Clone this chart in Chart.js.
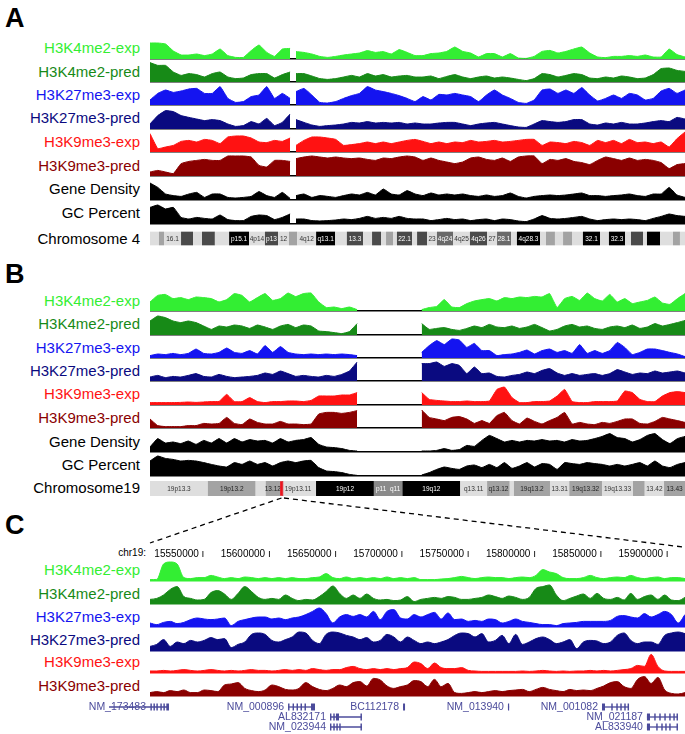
<!DOCTYPE html>
<html>
<head>
<meta charset="utf-8">
<script src="https://cdn.jsdelivr.net/npm/chart.js@4.4.1/dist/chart.umd.min.js"></script>
<style>
  body { margin: 0; background: #fff; }
  #fig { position: relative; width: 685px; height: 734px; overflow: hidden;
         font-family: "Liberation Sans", Arial, Helvetica, sans-serif; }
  #fig canvas { position: absolute; }
  .lbl { position: absolute; right: 545px; font-size: 15px; line-height: 18px; white-space: nowrap; }
  .panel { position: absolute; left: 5px; font-size: 27px; font-weight: bold; line-height: 30px; }
  #fig svg { position: absolute; left: 0; top: 0; }
</style>
</head>
<body>
<div id="fig"></div>
<script>
// ---- data ----
const TRACK_NAMES = ['H3K4me2-exp', 'H3K4me2-pred', 'H3K27me3-exp', 'H3K27me3-pred',
                     'H3K9me3-exp', 'H3K9me3-pred', 'Gene Density', 'GC Percent'];

// chromosome 4 (Mb): p arm values, q arm values
const CHR4_LEN = 191.3, CHR4_P_END = 50.1, CHR4_Q_START = 52.2;
const A_K4_EXP_P = [8, 8, 7.5, 4, 2, 2, 2.5, 1.7, 2.5, 5, 1.7, 0.8, 0.8, 4.2, 7, 3.3, 1.3, 5, 5.3];
const A_K4_EXP_Q = [3.7, 3.3, 2.5, 1.3, 0.8, 1.3, 2, 2.5, 3, 4.2, 3.3, 3.7, 2.5, 4.7, 3.3, 1.7,
  1.7, 2.7, 3, 3.8, 6, 3.8, 3, 1, 2.7, 2.7, 1, 2.7, 0.5, 0.3, 1.3, 3.8, 4.3, 3, 3.8, 5, 6, 3, 1, 0.7,
  1.3, 1.3, 1.7, 1.3, 2, 1, 1, 5, 2.2, 1];
const A_K4_PRED_P = [9.7, 8.3, 8.3, 5, 3.3, 4.2, 3.7, 2.5, 4.2, 5, 2.5, 1.7, 2, 3.7, 4.2, 4.2, 2, 3.7, 5];
const A_K4_PRED_Q = [4.2, 4.2, 3, 1.7, 1.3, 1.7, 2.5, 3.3, 2.5, 4.2, 3, 3.7, 2.5, 3, 3.3, 2.5,
  2.5, 3, 1.7, 2.8, 3.7, 2.5, 1.7, 2.5, 3, 2, 2.5, 2, 1.3, 0.7, 1.7, 4.2, 3.7, 2.5, 3.3, 4.2, 3.7, 2, 1.7, 2.5,
  2, 3, 2.5, 1.7, 2, 3.7, 6.7, 7, 5.8, 5.3];
const A_K27_EXP_P = [2.5, 5.8, 7.5, 6.3, 7, 8, 8.3, 5.8, 5.8, 9.2, 3.3, 1.3, 1.7, 4.2, 5, 9.2, 3.3, 5.8, 3.3];
const A_K27_EXP_Q = [6.7, 8.3, 5, 1.3, 1, 1.7, 3.3, 4.7, 5.8, 9.2, 7.5, 6.7, 5.8, 4.7, 3.3, 1.7,
  4.2, 2.5, 5.3, 5, 5.8, 5, 4.2, 1.7, 5, 7.5, 5, 3.3, 1.3, 0.8, 2.5, 7.5, 8, 5.8, 7.5, 5.8, 8.7, 5, 2, 3.3,
  5, 3.3, 5.8, 5, 2.5, 3.3, 7, 8.3, 5.8, 7.5];
const A_K27_PRED_P = [2.5, 6.7, 9.2, 8.7, 6.7, 5.8, 5, 4.2, 4.7, 4.2, 2.5, 1.3, 1.7, 3.7, 2.5, 5.3, 1.7, 3.3, 7.5];
const A_K27_PRED_Q = [4.7, 3.3, 2, 1.3, 1.7, 2, 2.5, 3.3, 3, 3.7, 3, 3.3, 3, 3.3, 2.5, 3,
  2.5, 2.5, 3, 3.3, 3.3, 2.5, 1.7, 2.5, 3, 3.3, 2.5, 1.7, 1, 0.8, 2.5, 4.2, 3.7, 3.3, 3.7, 4.7, 4.7, 2.5, 2, 3,
  2.5, 3.3, 2.5, 2.5, 3, 3.7, 4.2, 3.7, 5.8, 5];
const A_K9_EXP_P = [9.2, 1.7, 2.5, 3.3, 5.3, 5.8, 5, 6.3, 5.8, 4.2, 7.5, 8, 8, 7, 5, 4.7, 5.8, 5.3, 7];
const A_K9_EXP_Q = [3.3, 5.8, 7.5, 7.5, 7, 6.3, 3.3, 3.7, 4.2, 5, 4.2, 5, 4.2, 5, 5.8, 6.3,
  5.3, 4.2, 5, 4.2, 5, 4.7, 5.8, 5, 5.3, 5.8, 5, 5.3, 5.8, 6.3, 6.3, 3.3, 5, 4.7, 4.2, 5.3, 4.7, 3.3, 5.8, 4.7,
  5.8, 4.2, 6.3, 4.7, 5, 4.2, 5, 2.5, 6.7, 10];
const A_K9_PRED_P = [2, 2.8, 2, 1.2, 6.2, 7.3, 7.8, 8.3, 7.8, 7.8, 10, 10, 10, 9.5, 5.3, 4.5, 7.8, 7.8, 7.3];
const A_K9_PRED_Q = [8.7, 9.5, 10, 9.5, 9, 9.5, 9, 8.7, 9, 8.3, 7.8, 9, 8.7, 9.5, 10, 9.5,
  7.8, 9, 7.8, 7, 6.2, 7, 9, 9.5, 8.3, 7.8, 9, 7.3, 9.5, 10, 10, 6.2, 8.3, 7.8, 8.7, 7.3, 6.7, 5.7, 7.8, 9.5,
  8.7, 7.8, 9, 7.8, 8.3, 7.8, 6.7, 3.7, 5.7, 6.2];
const A_GENE_P = [8.5, 6.3, 3, 2.2, 1.8, 3, 3.8, 1.3, 3, 3, 1.3, 1, 1.3, 1.8, 4.2, 2.2, 1.3, 3.8, 0.8];
const A_GENE_Q = [2.2, 3, 1.3, 2.2, 1.8, 1.3, 2.2, 3, 2.5, 3.8, 2.5, 5.5, 3, 2.5, 4.7, 3,
  2.2, 3.5, 2.5, 3, 2.5, 3, 2.2, 1.8, 2.5, 1.8, 2.2, 3.5, 1.8, 1, 1.8, 2.2, 2.5, 2.2, 2.5, 3, 3.5, 2.2, 2.2, 1.8,
  2.2, 2.5, 3, 2.2, 1.8, 3, 3, 6.3, 2.5, 1.3];
const A_GC_P = [8.3, 9.5, 7.5, 8.3, 3.3, 2.5, 3.3, 2.8, 2.5, 4.5, 2.2, 1.7, 1.7, 3.8, 4.5, 4.2, 2.2, 3.3, 5];
const A_GC_Q = [2.5, 2.5, 1.7, 1.5, 1.7, 2, 2.5, 2.2, 2.8, 3.8, 2.8, 3.3, 2.8, 3.8, 2.8, 2.5,
  2.5, 1.7, 2.2, 2.8, 2.2, 2.5, 1.7, 2.2, 2.5, 1.7, 2.5, 2.2, 1.5, 1.2, 2.5, 4.2, 2.8, 2.5, 2.8, 3.3, 3.8, 2.5, 1.7, 2.2,
  2.5, 2.2, 2.5, 2.2, 1.7, 2.8, 3.8, 5, 4.2, 3.8];

// chromosome 19 (Mb)
const CHR19_LEN = 63.8, CHR19_P_END = 24.7, CHR19_Q_START = 32.4;
const B_K4_EXP_P = [4.5, 7.8, 8.3, 6.2, 6.7, 5.7, 7, 6.7, 6.2, 4.5, 5.7, 8.7, 7.8, 4.5, 6.7, 8.7, 5.3, 6.2, 9, 7.2,
  8.7, 9, 4.5, 1.7, 2, 1.2, 2, 0.7];
const B_K4_EXP_Q = [0.7, 1.7, 2.3, 5.7, 2, 1.7, 3.7, 5, 5.7, 6.2, 5, 6.7, 6.2, 7, 6.7, 7.3, 7, 8.7, 1.7, 6.2,
  7.3, 5.3, 9, 6.2, 5, 8.3, 4.5, 6.2, 3.7, 4.5, 5.3, 7, 4, 3.3, 6.2, 8.7];
const B_K4_PRED_P = [7, 9.5, 8.7, 7, 6.2, 7, 6.2, 4.5, 2.8, 4.5, 4, 5, 4.5, 3.3, 5, 4, 2.8, 4.5, 5.3, 3.7,
  5, 4.5, 2, 1.7, 1.2, 0.7, 1.7, 5.7];
const B_K4_PRED_Q = [5.7, 2.8, 3.3, 3.7, 2.8, 2.3, 3.3, 4.5, 3.7, 5.3, 4, 3.7, 4.5, 3.3, 4, 5.3, 3.7, 2, 2.8, 4.5,
  5.3, 4, 4.5, 3.3, 2.8, 4, 4.5, 3.7, 5, 3.3, 4, 5.7, 4.5, 5.3, 6.2, 7.3];
const B_K27_EXP_P = [1.2, 2, 1.7, 2.3, 1.7, 2.3, 4.5, 2.3, 2, 2.8, 5, 2.8, 2.3, 3.7, 2, 6.2, 2.8, 5.7, 2.8, 2,
  1.7, 2, 1.7, 2, 1.7, 2, 1.7, 1.2];
const B_K27_EXP_Q = [2.8, 6.2, 8.7, 6.7, 9.5, 9, 5.3, 7.3, 3.7, 3.7, 1.2, 1.7, 2, 2.8, 4, 2, 3.7, 4.5, 2.8, 3.7,
  2.3, 6.7, 2.3, 3.7, 2.3, 3.7, 7.8, 5.3, 1.7, 2.8, 4.5, 4.5, 3.7, 2.8, 2, 0.7];
const B_K27_PRED_P = [2, 2.8, 1.7, 2.3, 2, 2.8, 3.7, 2.3, 2, 3.3, 2.3, 1.7, 2, 2.3, 2.8, 4, 3.3, 5, 3.7, 2.3,
  2.8, 2.3, 2, 2.8, 2.3, 3.3, 5, 9.5];
const B_K27_PRED_Q = [8.7, 8.7, 9.5, 7.3, 8.7, 7.8, 3.7, 7, 3.7, 4, 2.3, 2, 2.8, 3.3, 4.5, 3.7, 5.3, 6.2, 4, 2.8,
  3.7, 2.8, 3.3, 3.7, 2.8, 3.7, 5.7, 4.5, 3.3, 4, 3.7, 5, 4, 4.5, 5, 4];
const B_K9_EXP_P = [1.2, 1.2, 1.2, 1.2, 1.3, 1.5, 1.3, 1.5, 1.7, 1.8, 5.3, 1.7, 1.7, 3.7, 1.7, 1.2, 1.7, 1.7, 2, 2,
  1.7, 2.3, 4.5, 4.5, 4.5, 5, 5, 6.2];
const B_K9_EXP_Q = [6.2, 2.8, 2.3, 2, 1.7, 1.7, 2, 1.7, 1.7, 2, 7.8, 9, 3.7, 1.2, 1.2, 1.7, 1.7, 2, 4.5, 7.8,
  1.7, 1.2, 1.2, 1.7, 1.7, 1.7, 2, 7, 6.2, 2.8, 1.7, 1.7, 4.5, 6.2, 6.7, 6.2];
const B_K9_PRED_P = [4.5, 1.2, 0.7, 0.7, 0.7, 1.2, 1.2, 2.3, 2, 2.3, 5.3, 2.3, 1.7, 4.5, 2.8, 2, 2, 3.3, 2, 2,
  1.7, 2, 7, 7.8, 7.8, 7.3, 7.8, 8.7];
const B_K9_PRED_Q = [9, 5.3, 4.5, 3.7, 5.3, 5.7, 4.5, 2.3, 3.7, 2.3, 6.2, 7.8, 3.7, 2, 5, 3.3, 2, 3.7, 5.3, 7.8,
  2, 2.8, 2, 1.7, 2.8, 2.3, 3.3, 4.5, 4.5, 2.3, 2, 3.3, 5.3, 4.5, 3.7, 2.8];
const B_GENE_P = [2.5, 6.7, 4.5, 5, 4.2, 5.5, 3.8, 5.8, 4.5, 6.7, 4.5, 6.7, 5, 6.2, 5.5, 5.8, 4.5, 6.7, 5, 5.8,
  6.2, 7.2, 3.8, 2.5, 2.2, 1.7, 0.8, 0.5];
const B_GENE_Q = [0.5, 0.5, 0.8, 1.7, 0.8, 1.2, 3.3, 2.8, 5.8, 8.3, 6.7, 5, 5.8, 5, 5.8, 5.5, 6.2, 5.5, 5.8, 5,
  6.2, 5.5, 5.8, 6.7, 7.8, 9.2, 7.2, 6.7, 5, 6.2, 8.3, 9.2, 6.2, 4.2, 6.7, 7.8];
const B_GC_P = [7.5, 10, 8.8, 8.3, 7.5, 7.8, 7.5, 6.7, 5.8, 5, 4.5, 6.7, 5.8, 7.5, 5.8, 6.7, 5, 6.7, 7.5, 6.7,
  7.5, 7.8, 4.2, 2.5, 2.2, 1.7, 0.8, 0.3];
const B_GC_Q = [0.5, 1.7, 3.3, 4.5, 3.8, 3.3, 5, 5.5, 4.2, 5.8, 4.2, 6.7, 3.8, 5, 6.7, 4.5, 6.2, 5.8, 3.3, 6.7,
  6.2, 5.8, 6.7, 6.2, 5.8, 5, 5.8, 5, 5.8, 6.7, 5, 7.5, 5, 4.2, 5.8, 6.7];

// chr19 zoom window (bp)
const C_START = 15509000, C_END = 15912400;
const C_TICKS = [15550000, 15600000, 15650000, 15700000, 15750000, 15800000, 15850000, 15900000];
const C_K4_EXP = [0.7, 0.8, 8.5, 9.5, 8.5, 1.7, 1.2, 1.7, 1.7, 2.8, 2, 1.2, 1.7, 1.2, 2, 1.7, 1.2, 1.7, 1.2, 1.7,
  1.2, 1.7, 1.2, 1.2, 1.7, 2, 3.7, 1.7, 1.2, 2, 1.2, 1.7, 1.2, 1.7, 1.2, 2, 1.2, 1.7, 1.2, 1.7,
  0.7, 0.7, 0.7, 1, 1.2, 1.7, 2.3, 1.7, 1.2, 1.7, 2, 1.7, 1.7, 1.2, 1.7, 2, 1.7, 2.8, 5.7, 4.5,
  3.7, 1.7, 1.2, 1.2, 1.7, 2.8, 1.7, 1.2, 1.7, 2, 1.7, 2.8, 1.7, 1.2, 1.7, 2, 1.2, 1.7, 1.7, 1.2];
const C_K4_PRED = [2.3, 2.8, 4.5, 7.3, 8.7, 3.7, 2.8, 2, 2.3, 5.7, 6.7, 5, 2.3, 5.3, 8.7, 6.2, 3.3, 2.3, 2.8, 2.3,
  4.5, 2.8, 1.7, 2.3, 2, 3.7, 6.2, 9, 5.3, 2.8, 4.5, 2.8, 5, 2.8, 2, 2.3, 1.7, 2, 3.7, 1.2,
  2.3, 2.8, 3.3, 2.8, 3.7, 3.3, 2.3, 2.3, 2.8, 3.3, 4.5, 3.7, 2.8, 4, 3.3, 2.3, 3.3, 7.8, 8.7, 9.5,
  4.5, 1.7, 2.8, 4, 5, 2.8, 5.3, 2.8, 2.3, 3.3, 2, 5.3, 2.3, 3.7, 4.5, 2.3, 4.5, 2, 1.7, 3.3];
const C_K27_EXP = [2, 1.2, 2.3, 2.8, 1.7, 2.3, 3.7, 4.5, 4, 3.7, 4, 4.5, 0.7, 2.8, 3.7, 4.5, 5, 5, 4, 4.5,
  3.7, 4.5, 5, 6.2, 7.8, 9.5, 6.7, 2, 5, 6.2, 5.3, 6.2, 5, 7.8, 3.7, 7.8, 8.7, 4.5, 4, 6.2,
  5, 6.2, 7.3, 4, 7, 3.7, 4, 2.8, 3.3, 2.8, 4, 3.7, 2, 2.8, 4, 2.8, 2.3, 1.7, 1.2, 1.2,
  0.7, 1.7, 2, 2.3, 2.8, 2.8, 2.8, 2.8, 3.3, 5.3, 5.7, 5, 4.5, 6.7, 5, 6.2, 7.8, 6.2, 2, 6.2];
const C_K27_PRED = [2.3, 3.3, 5.7, 2.3, 4.5, 3.7, 5.3, 4.5, 5.3, 6.7, 5.7, 6.2, 1.7, 3.3, 4.5, 8.3, 9, 8.3, 5.3, 4.5,
  5.7, 7, 9.5, 9, 5.3, 3.7, 8.3, 9.5, 9, 7.8, 7, 5.7, 6.7, 4.5, 5.3, 8.3, 7, 4.5, 7, 5.3,
  3.7, 4.5, 3.7, 4.5, 5.7, 7.8, 9, 8.7, 7, 8.7, 4.5, 5.3, 7.8, 3.7, 8.3, 3.3, 4.5, 6.2, 7, 5.7,
  3.7, 4.5, 5.7, 1.2, 4.5, 5.3, 5, 3.7, 4.5, 7.8, 9, 5.3, 3.7, 4.5, 4.5, 3.3, 7.8, 9, 9.5, 8.7];
const C_K9_EXP = [1, 1, 1.3, 1, 1.3, 1.7, 1.3, 1, 1.3, 1.7, 1.3, 1, 1.3, 1, 1.3, 1.7, 1.3, 1.3, 1, 1.3,
  1.7, 1.3, 1.7, 1.3, 2.2, 1.7, 1.3, 1.7, 1.7, 2.7, 3.3, 2.2, 1.7, 2.2, 1.7, 2.2, 1.7, 2.2, 2.7, 5.5,
  4.7, 2.2, 5, 2.7, 2.2, 2.2, 2.7, 1.3, 1, 0.8, 0.8, 0.8, 0.8, 0.8, 0.8, 1, 0.8, 1, 1.3, 1,
  0.8, 1, 0.8, 1, 1, 1.3, 1, 1.3, 1, 1.3, 1.7, 2.2, 3.8, 3.3, 9.3, 3.3, 1, 0.8, 0.8, 0.8];
const C_K9_PRED = [1.7, 2.2, 1.7, 2.7, 2.2, 3, 1.7, 1.7, 3, 2.7, 2.2, 5.5, 6, 6.7, 3.8, 2.7, 2.2, 3, 5.5, 4.7,
  3.3, 3, 3.8, 6.7, 4.7, 3.3, 2.7, 3.8, 5.5, 4.7, 6.7, 7.2, 5, 8.8, 8, 5, 3.8, 4.7, 5.5, 7.7,
  7.2, 4.7, 8.3, 4.7, 6.3, 1.7, 1.3, 1.7, 2.2, 1.7, 2.2, 2.7, 2.2, 2.7, 3, 3.3, 2.2, 3.3, 4.3, 3.3,
  2.7, 2.2, 3.3, 2.7, 3, 2.7, 3.8, 5, 6.7, 7.2, 4.7, 3.8, 8.3, 9.7, 6.3, 9.3, 3, 1.3, 1, 1.7];

// ideogram bands: [start Mb, end Mb, stain, name]
const CHR4_BANDS = [
  [0, 3.2, 'l', ''], [3.2, 5.0, 'm', ''], [5.0, 11.1, 'l', '16.1'], [11.1, 15.4, 'd', ''],
  [15.4, 18.6, 'l', ''], [18.6, 23.2, 'd', ''], [23.2, 28.3, 'l', ''], [28.3, 35.4, 'k', 'p15.1'],
  [35.4, 41.1, 'l', '4p14'], [41.1, 45.8, 'd', 'p13'], [45.8, 49.7, 'l', '12'], [49.7, 52.6, 'm', ''],
  [52.6, 59.4, 'l', '4q12'], [59.4, 66.2, 'k', 'q13.1'], [66.2, 70.4, 'l', ''], [70.4, 76.2, 'd', '13.3'],
  [76.2, 79.4, 'l', ''], [79.4, 82.6, 'd', ''], [82.6, 84.4, 'l', ''], [84.4, 86.9, 'm', ''],
  [86.9, 88.3, 'l', ''], [88.3, 93.7, 'd', '22.1'], [93.7, 95.5, 'l', ''], [95.5, 99.1, 'd', ''],
  [99.1, 102.6, 'l', '23'], [102.6, 108.4, 'g', '4q24'], [108.4, 114.4, 'l', '4q25'], [114.4, 120.5, 'd', '4q26'],
  [120.5, 124.1, 'l', '27'], [124.1, 129.1, 'g', '28.1'], [129.1, 131.2, 'l', ''], [131.2, 139.5, 'k', '4q28.3'],
  [139.5, 141.6, 'l', ''], [141.6, 144.8, 'm', ''], [144.8, 147.7, 'l', ''], [147.7, 150.9, 'm', ''],
  [150.9, 154.8, 'l', ''], [154.8, 160.9, 'k', '32.1'], [160.9, 164.1, 'l', ''], [164.1, 169.9, 'k', '32.3'],
  [169.9, 172.0, 'l', ''], [172.0, 176.3, 'd', ''], [176.3, 177.7, 'l', ''], [177.7, 182.4, 'k', ''],
  [182.4, 187.0, 'l', ''], [187.0, 189.5, 'm', ''], [189.5, 191.3, 'l', '']
];
const CHR19_BANDS = [
  [0, 6.9, 'l', '19p13.3'], [6.9, 12.6, 'm', '19p13.2'], [12.6, 13.8, 'l', ''], [13.8, 15.5, 'm', '13.12'],
  [15.5, 19.8, 'l', '19p13.11'], [19.8, 26.7, 'k', '19p12'], [26.7, 30.1, 'c', 'p11  q11'], [30.1, 37.0, 'k', '19q12'],
  [37.0, 40.2, 'l', 'q13.11'], [40.2, 42.9, 'm', 'q13.12'], [42.9, 43.4, 'l', ''], [43.4, 47.7, 'm', '19q13.2'],
  [47.7, 50.0, 'l', '13.31'], [50.0, 53.9, 'm', '19q13.32'], [53.9, 57.6, 'l', '19q13.33'], [57.6, 59.0, 'm', ''],
  [59.0, 61.3, 'l', '13.42'], [61.3, 63.8, 'm', '13.43']
];

// RefSeq genes in the zoom window
const GENE_NAMES = ['NM_173483', 'NM_000896', 'BC112178', 'NM_013940', 'NM_001082',
                    'AL832171', 'NM_021187', 'NM_023944', 'AL833940'];
const GENE_ROWS = [0, 0, 0, 0, 0, 1, 1, 2, 2];
const GENE_STARTS = [15478100, 15613100, 15699800, 15778900, 15849800, 15644700, 15883700, 15644700, 15883700];
const GENE_ENDS = [15523300, 15633400, 15701300, 15779800, 15870200, 15668800, 15907100, 15668800, 15907100];
const GENE_EXONS = [
  [[15509300, 15510400], [15511600, 15512700], [15513800, 15514900], [15516800, 15517900], [15519100, 15520200], [15521300, 15523300]],
  [[15613100, 15614200], [15616500, 15617600], [15619500, 15620600], [15622500, 15623600], [15625500, 15626600], [15630400, 15633400]],
  [[15699800, 15701300]],
  [[15778900, 15779800]],
  [[15849800, 15852100], [15856800, 15857900], [15860600, 15861700], [15863600, 15864700], [15866600, 15867700], [15869100, 15870200]],
  [[15644700, 15645800], [15647200, 15648300], [15649200, 15651500], [15667700, 15668800]],
  [[15883700, 15886000], [15889200, 15890300], [15893000, 15894100], [15896800, 15897900], [15900500, 15901600], [15903600, 15904700], [15906000, 15907100]],
  [[15644700, 15645800], [15647200, 15648300], [15649500, 15650600], [15651700, 15652800], [15667700, 15668800]],
  [[15883700, 15886000], [15890700, 15891800], [15894500, 15895600], [15897500, 15898600], [15900500, 15901600], [15906000, 15907100]]
];

// ---- styles / layout ----
const TRACK_COLORS = ['#33ee33', '#178a17', '#1414f0', '#0a0a80', '#ff1212', '#8a0000', '#000000', '#000000'];
const STAIN = {
  l: { fill: '#dedede', text: '#333' }, m: { fill: '#a3a3a3', text: '#222' },
  g: { fill: '#6a6a6a', text: '#fff' }, d: { fill: '#4a4a4a', text: '#fff' },
  k: { fill: '#000000', text: '#fff' }, c: { fill: '#8a8a8a', text: '#fff' }
};
const GENE_COLOR = '#4b4b9b';
const PLOT_LEFT = 150, PLOT_W = 535, TRACK_H = 22;
const A_BASE = [58.7, 82, 105.3, 128.7, 152, 176, 199.7, 223.7];
const B_BASE = [311.3, 334.7, 358, 381.3, 404.7, 428, 452.3, 475.7];
const C_BASE = [580.7, 604, 627.3, 650.7, 672.7, 696];

Chart.defaults.font.family = '"Liberation Sans", Arial, Helvetica, sans-serif';
const fig = document.getElementById('fig');

function addCanvas(left, top, w, h) {
  const c = document.createElement('canvas');
  c.width = w; c.height = h;
  c.style.left = left + 'px'; c.style.top = top + 'px';
  c.style.width = w + 'px'; c.style.height = h + 'px';
  fig.appendChild(c);
  return c;
}

function addText(cls, text, top, color, extra) {
  const d = document.createElement('div');
  d.className = cls;
  d.textContent = text;
  d.style.top = top + 'px';
  d.style.color = color;
  if (extra) Object.assign(d.style, extra);
  fig.appendChild(d);
}

function spread(values, from, to) {
  const step = (to - from) / (values.length - 1);
  return values.map((v, i) => ({ x: from + i * step, y: v }));
}

const baseOpts = { responsive: false, animation: false, events: [], devicePixelRatio: 1 };

function track(baseline, arms, min, max, color, lineColor, smooth) {
  const canvas = addCanvas(PLOT_LEFT, Math.round(baseline) - (TRACK_H - 1), PLOT_W, TRACK_H);
  new Chart(canvas, {
    type: 'line',
    data: {
      datasets: arms.map(a => ({
        data: a, fill: 'origin', backgroundColor: color, borderColor: color,
        borderWidth: 1, pointRadius: 0,
        cubicInterpolationMode: smooth ? 'monotone' : 'default', tension: smooth ? 0.4 : 0.1
      }))
    },
    options: {
      ...baseOpts,
      layout: { padding: { top: 0, bottom: 1, left: 0, right: 0 } },
      plugins: { legend: { display: false }, tooltip: { enabled: false } },
      scales: {
        x: { type: 'linear', min, max, z: 1, ticks: { display: false },
             grid: { display: false, drawTicks: false },
             border: { display: true, color: lineColor, width: 1.5 } },
        y: { min: 0, max: 10.5, display: false }
      }
    }
  });
}

function ideogram(top, h, len, bands, thick, marker) {
  const canvas = addCanvas(PLOT_LEFT, top, PLOT_W, h);
  const datasets = [{
    data: bands.map(b => ({ x: [b[0], b[1]], y: 'chr' })),
    backgroundColor: bands.map(b => STAIN[b[2]].fill),
    borderWidth: 0, grouped: false, maxBarThickness: thick, order: 2
  }];
  if (marker) {
    datasets.push({ data: [{ x: marker, y: 'chr' }], backgroundColor: '#e8141e',
      borderColor: '#c80a10', borderWidth: 0.6, grouped: false, maxBarThickness: h, order: 1 });
  }
  const bandNames = {
    id: 'bandNames',
    afterDatasetDraw(chart, args) {
      if (args.index !== 0) return;
      const ctx = chart.ctx;
      ctx.save();
      ctx.font = '6.5px "Liberation Sans", Arial, sans-serif';
      ctx.textAlign = 'center';
      ctx.textBaseline = 'middle';
      args.meta.data.forEach((el, i) => {
        const b = bands[i];
        if (!b[3]) return;
        ctx.fillStyle = STAIN[b[2]].text;
        ctx.fillText(b[3], (el.x + el.base) / 2, el.y + 0.5);
      });
      ctx.restore();
    }
  };
  new Chart(canvas, {
    type: 'bar',
    data: { labels: ['chr'], datasets },
    options: {
      ...baseOpts, indexAxis: 'y',
      layout: { padding: 0 },
      plugins: { legend: { display: false }, tooltip: { enabled: false } },
      scales: {
        x: { type: 'linear', min: 0, max: len, display: false },
        y: { display: false }
      }
    },
    plugins: [bandNames]
  });
}

// ---- panel A ----
addText('panel', 'A', 3, '#000');
const A_ARMS = [[A_K4_EXP_P, A_K4_EXP_Q], [A_K4_PRED_P, A_K4_PRED_Q], [A_K27_EXP_P, A_K27_EXP_Q],
  [A_K27_PRED_P, A_K27_PRED_Q], [A_K9_EXP_P, A_K9_EXP_Q], [A_K9_PRED_P, A_K9_PRED_Q],
  [A_GENE_P, A_GENE_Q], [A_GC_P, A_GC_Q]];
A_ARMS.forEach((a, i) => {
  track(A_BASE[i], [spread(a[0], 0, CHR4_P_END), spread(a[1], CHR4_Q_START, CHR4_LEN)],
        0, CHR4_LEN, TRACK_COLORS[i], '#000', false);
  addText('lbl', TRACK_NAMES[i], A_BASE[i] - 19.5, TRACK_COLORS[i]);
});
ideogram(229, 19, CHR4_LEN, CHR4_BANDS, 14, null);
addText('lbl', 'Chromosome 4', 238.3 - 8.8, '#000');

// ---- panel B ----
addText('panel', 'B', 259, '#000');
const B_ARMS = [[B_K4_EXP_P, B_K4_EXP_Q], [B_K4_PRED_P, B_K4_PRED_Q], [B_K27_EXP_P, B_K27_EXP_Q],
  [B_K27_PRED_P, B_K27_PRED_Q], [B_K9_EXP_P, B_K9_EXP_Q], [B_K9_PRED_P, B_K9_PRED_Q],
  [B_GENE_P, B_GENE_Q], [B_GC_P, B_GC_Q]];
B_ARMS.forEach((a, i) => {
  track(B_BASE[i], [spread(a[0], 0, CHR19_P_END), spread(a[1], CHR19_Q_START, CHR19_LEN)],
        0, CHR19_LEN, TRACK_COLORS[i], '#000', false);
  addText('lbl', TRACK_NAMES[i], B_BASE[i] - 19.5, TRACK_COLORS[i]);
});
ideogram(478, 21, CHR19_LEN, CHR19_BANDS, 15, [C_START / 1e6, C_END / 1e6]);
addText('lbl', 'Chromosome19', 488.2 - 8.8, '#000');

// ---- panel C ----
addText('panel', 'C', 510, '#000');
const C_SERIES = [C_K4_EXP, C_K4_PRED, C_K27_EXP, C_K27_PRED, C_K9_EXP, C_K9_PRED];
C_SERIES.forEach((s, i) => {
  track(C_BASE[i], [spread(s, C_START, C_END)], C_START, C_END, TRACK_COLORS[i], TRACK_COLORS[i], true);
  addText('lbl', TRACK_NAMES[i], C_BASE[i] - 19.5, TRACK_COLORS[i]);
});

// coordinate ruler
const axisCanvas = addCanvas(PLOT_LEFT, 539, PLOT_W, 18);
new Chart(axisCanvas, {
  type: 'line',
  data: { datasets: [] },
  options: {
    ...baseOpts,
    layout: { padding: 0 },
    plugins: { legend: { display: false }, tooltip: { enabled: false } },
    scales: {
      x: { type: 'linear', min: C_START, max: C_END, bounds: 'data',
           afterBuildTicks: scale => { scale.ticks = C_TICKS.map(v => ({ value: v })); },
           grid: { display: false, drawTicks: false }, border: { display: false },
           ticks: { autoSkip: false, maxRotation: 0, align: 'end', padding: 0,
                    color: '#000', font: { size: 10 },
                    callback: v => v + ' \u0131' } },
      y: { display: false }
    }
  }
});
addText('lbl', 'chr19:', 552.7 - 6, '#000', { fontSize: '10px', lineHeight: '12px', right: '539px' });

// gene models
const bpPerPx = (C_END - C_START) / PLOT_W;
const geneCanvas = addCanvas(0, 702, 685, 30);
const ROW_KEYS = ['r0', 'r1', 'r2'];
const geneLabels = {
  id: 'geneLabels',
  beforeDatasetsDraw(chart) {
    const ctx = chart.ctx, xs = chart.scales.x, ys = chart.scales.y;
    ctx.save();
    ctx.font = '10.5px "Liberation Sans", Arial, sans-serif';
    ctx.fillStyle = GENE_COLOR;
    ctx.textAlign = 'right';
    ctx.textBaseline = 'middle';
    GENE_NAMES.forEach((n, i) => {
      const anchor = Math.max(GENE_STARTS[i], C_START);
      ctx.fillText(n, xs.getPixelForValue(anchor) - 4, ys.getPixelForValue(GENE_ROWS[i]) + 0.5);
    });
    ctx.restore();
  }
};
new Chart(geneCanvas, {
  type: 'bar',
  data: {
    labels: ROW_KEYS,
    datasets: [
      { data: GENE_NAMES.map((n, i) => ({ x: [GENE_STARTS[i], GENE_ENDS[i]], y: ROW_KEYS[GENE_ROWS[i]] })),
        backgroundColor: GENE_COLOR, borderWidth: 0, grouped: false, maxBarThickness: 1.3 },
      { data: GENE_EXONS.flatMap((ex, i) => ex.map(e => ({ x: e, y: ROW_KEYS[GENE_ROWS[i]] }))),
        backgroundColor: GENE_COLOR, borderWidth: 0, grouped: false, maxBarThickness: 7 }
    ]
  },
  options: {
    ...baseOpts, indexAxis: 'y',
    layout: { padding: 0 },
    plugins: { legend: { display: false }, tooltip: { enabled: false } },
    scales: {
      x: { type: 'linear', min: C_START - PLOT_LEFT * bpPerPx, max: C_END, display: false },
      y: { display: false }
    }
  },
  plugins: [geneLabels]
});

// zoom connector lines
const svgNS = 'http://www.w3.org/2000/svg';
const svg = document.createElementNS(svgNS, 'svg');
svg.setAttribute('width', 685); svg.setAttribute('height', 734);
[[281.5, 498, 150, 543], [284, 498, 683, 547]].forEach(l => {
  const ln = document.createElementNS(svgNS, 'line');
  ln.setAttribute('x1', l[0]); ln.setAttribute('y1', l[1]);
  ln.setAttribute('x2', l[2]); ln.setAttribute('y2', l[3]);
  ln.setAttribute('stroke', '#000'); ln.setAttribute('stroke-width', '1.3');
  ln.setAttribute('stroke-dasharray', '5 4');
  svg.appendChild(ln);
});
fig.appendChild(svg);
</script>
</body>
</html>
